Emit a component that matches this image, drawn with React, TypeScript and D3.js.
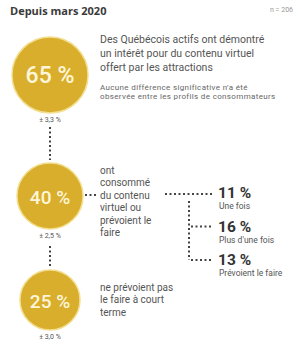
import React from "react";
import * as d3 from "d3";

const title = "Depuis mars 2020";
const sampleNote = "n = 206";
const mainValues = [65, 40, 25];
const mainMargins = ["± 3,3 %", "± 2,5 %", "± 3,0 %"];
const mainLabels = [
  ["Des Québécois actifs ont démontré", "un intérêt pour du contenu virtuel", "offert par les attractions"],
  ["ont", "consommé", "du contenu", "virtuel ou", "prévoient le", "faire"],
  ["ne prévoient pas", "le faire à court", "terme"],
];
const footnote = ["Aucune différence significative n'a été", "observée entre les profils de consommateurs"];
const subValues = [11, 16, 13];
const subLabels = ["Une fois", "Plus d'une fois", "Prévoient le faire"];

const W = 302, H = 352;
const GOLD = "#D8AE2C";
const FONT = "Roboto, 'Open Sans', 'DejaVu Sans', sans-serif";
const TITLE_FONT = "'Open Sans', 'DejaVu Sans', sans-serif";

export default function App() {
  const r = d3.scaleLinear().domain([25, 65]).range([30, 38]);
  const cx = 50;
  const cy = [75, 196, 300];
  const subY = d3.scaleLinear().domain([0, 2]).range([198, 265]);
  const dot = { stroke: "#444", strokeWidth: 2, strokeDasharray: "2 2.5" };
  const xVert = 189;
  return (
    <svg width={W} height={H} style={{ position: "absolute", left: 0, top: 0, background: "#fff" }} fontFamily={FONT}>
      <text x={10} y={15} fontSize={11} fontWeight={700} fill="#3a3a3a" fontFamily={TITLE_FONT}>{title}</text>
      <text x={293} y={12} fontSize={7} fill="#999" textAnchor="end">{sampleNote}</text>

      {/* vertical connectors */}
      <line x1={cx} x2={cx} y1={127} y2={160} {...dot} />
      <line x1={cx} x2={cx} y1={246} y2={268} {...dot} />

      {mainValues.map((v, i) => (
        <g key={i}>
          <circle cx={cx} cy={cy[i]} r={r(v)} fill={GOLD} stroke="#F2DE8E" strokeWidth={1.5} />
          <text x={cx} y={cy[i] + 8} textAnchor="middle" fontSize={i === 0 ? 23 : 19} fontWeight={500} fill="#FFF6DA">{v} %</text>
          <text x={cx} y={cy[i] + r(v) + 9} textAnchor="middle" fontSize={7} fill="#555">{mainMargins[i]}</text>
        </g>
      ))}

      {/* label texts */}
      <text fontSize={10.5} fill="#555">
        {mainLabels[0].map((l, j) => (
          <tspan key={j} x={100} y={43 + j * 14}>{l}</tspan>
        ))}
      </text>
      <text fontSize={8} fill="#666" letterSpacing={0.35}>
        {footnote.map((l, j) => (
          <tspan key={j} x={100} y={90 + j * 9}>{l}</tspan>
        ))}
      </text>
      <text fontSize={10} fill="#555">
        {mainLabels[1].map((l, j) => (
          <tspan key={j} x={100} y={174 + j * 12.4}>{l}</tspan>
        ))}
      </text>
      <text fontSize={10} fill="#555">
        {mainLabels[2].map((l, j) => (
          <tspan key={j} x={100} y={291 + j * 12.4}>{l}</tspan>
        ))}
      </text>

      {/* branch connectors */}
      <line x1={cx + r(40) + 2} x2={97} y1={195} y2={195} {...dot} />
      <line x1={165} x2={213} y1={194} y2={194} {...dot} />
      <line x1={xVert} x2={xVert} y1={201} y2={subY(2) - 5} {...dot} />
      {subValues.map((v, i) => (
        <g key={i}>
          {i > 0 && <line x1={xVert + 2} x2={213} y1={subY(i) - 5} y2={subY(i) - 5} {...dot} />}
          <text x={218} y={subY(i)} fontSize={15.5} fontWeight={700} fill="#333">{v} %</text>
          <text x={219} y={subY(i) + 11} fontSize={8.5} fill="#555">{subLabels[i]}</text>
        </g>
      ))}
    </svg>
  );
}
